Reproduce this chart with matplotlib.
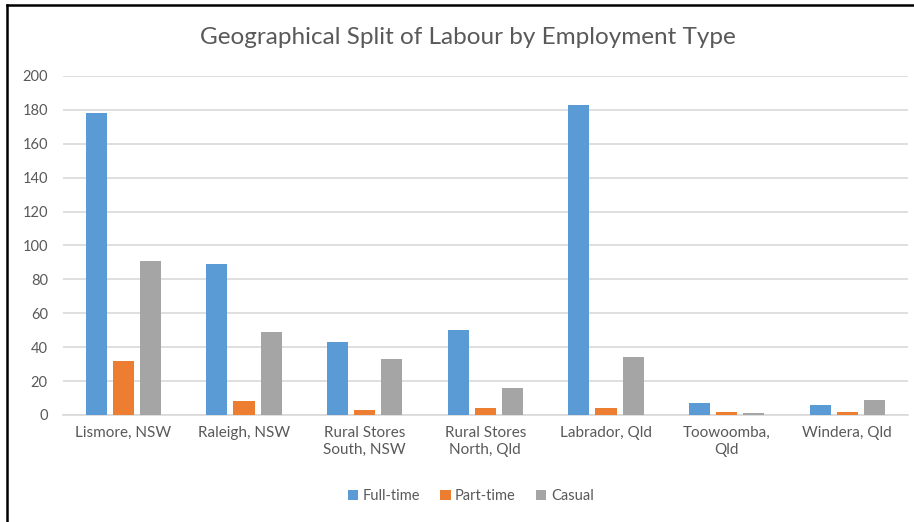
import numpy as np
import matplotlib.pyplot as plt
from matplotlib.lines import Line2D

categories = ["Lismore, NSW", "Raleigh, NSW", "Rural Stores\nSouth, NSW",
              "Rural Stores\nNorth, Qld", "Labrador, Qld", "Toowoomba,\nQld",
              "Windera, Qld"]
full_time = [178, 89, 43, 50, 183, 7, 6]
part_time = [32, 8, 3, 4, 4, 2, 2]
casual = [91, 49, 33, 16, 34, 1, 9]
series = ["Full-time", "Part-time", "Casual"]
colors = ["#5B9BD5", "#ED7D31", "#A5A5A5"]

plt.rcParams['font.family'] = ['Lato', 'DejaVu Sans']
text_col = "#595959"

fig = plt.figure(figsize=(9.14, 5.22), dpi=100)
ax = fig.add_axes([0.069, 0.205, 0.924, 0.6495])

x = np.arange(len(categories))
w = 0.175
off = 0.225
for i, (vals, name, c) in enumerate(zip([full_time, part_time, casual], series, colors)):
    ax.bar(x + (i - 1) * off, vals, w, color=c, label=name, zorder=3)

ax.set_xlim(-0.5, len(categories) - 0.5)
ax.set_ylim(0, 200)
ax.set_yticks(range(0, 201, 20))
ax.yaxis.grid(True, color="#D9D9D9", lw=1.2, zorder=0)
ax.tick_params(axis='y', length=0, labelsize=10.5, labelcolor=text_col, pad=11)
ax.set_xticks(x)
ax.set_xticklabels(categories, fontsize=11, color=text_col, linespacing=1.25)
ax.tick_params(axis='x', length=0, pad=8)
for s in ["top", "right", "left"]:
    ax.spines[s].set_visible(False)
ax.spines["bottom"].set_color("#D9D9D9")
ax.spines["bottom"].set_linewidth(1.2)

fig.text(0.512, 0.928, "Geographical Split of Labour by Employment Type",
         ha="center", va="center", fontsize=17.5, color=text_col)

fig.legend(loc="center", bbox_to_anchor=(0.515, 0.049), ncol=3, frameon=False,
           fontsize=10.5, labelcolor=text_col, handlelength=0.7, handleheight=0.7,
           handletextpad=0.3, columnspacing=1.4)

# screenshot frame on left and top
fig.add_artist(Line2D([0.008, 0.008], [0, 0.991], color="black", lw=1.8,
                      transform=fig.transFigure))
fig.add_artist(Line2D([0.008, 1.0], [0.991, 0.991], color="black", lw=1.8,
                      transform=fig.transFigure))

fig.savefig("out.png", dpi=100)
